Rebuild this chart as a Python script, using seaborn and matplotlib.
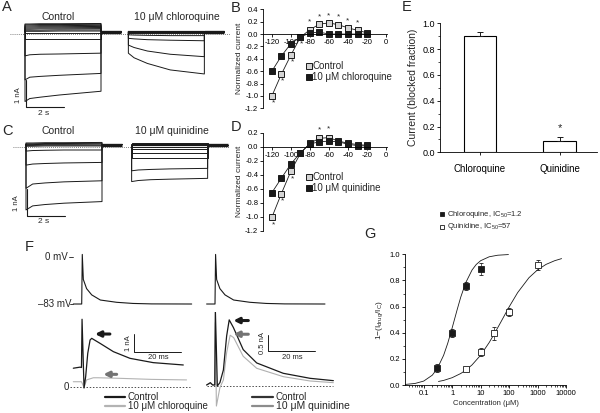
import matplotlib
matplotlib.use("Agg")
import matplotlib.pyplot as plt
from matplotlib.lines import Line2D
from matplotlib.ticker import AutoMinorLocator, LogLocator, NullFormatter
import pandas as pd
import seaborn as sns

# ---------------------------------------------------------------------------
# Data
# ---------------------------------------------------------------------------

# A: step currents (nA) at times (s) from pulse onset; control / 10 uM chloroquine
A_CTRL_T = [0.0, 0.25, 0.8, 1.8, 4.0]
A_CTRL = [
    [-2.50, -2.39, -2.34, -2.26, -2.12],
    [-1.70, -1.60, -1.57, -1.53, -1.46],
    [-0.81, -0.77, -0.75, -0.74, -0.71],
    [-0.19, -0.19, -0.19, -0.19, -0.19],
    [0.05, 0.05, 0.05, 0.05, 0.05],
    [0.10, 0.10, 0.10, 0.11, 0.11],
    [0.14, 0.14, 0.14, 0.15, 0.15],
    [0.18, 0.18, 0.19, 0.19, 0.20],
    [0.22, 0.22, 0.23, 0.23, 0.24],
    [0.26, 0.26, 0.27, 0.27, 0.28],
    [0.30, 0.30, 0.31, 0.31, 0.32],
    [0.34, 0.34, 0.35, 0.35, 0.36],
    [0.37, 0.37, 0.38, 0.38, 0.39],
]
A_CQ_T = [0.0, 0.3, 1.0, 2.2, 4.0]
A_CQ = [
    [-0.71, -0.88, -1.09, -1.33, -1.48],
    [-0.41, -0.50, -0.63, -0.75, -0.84],
    [-0.16, -0.18, -0.21, -0.23, -0.25],
    [-0.03, -0.04, -0.05, -0.06, -0.06],
    [0.04, 0.04, 0.04, 0.04, 0.04],
    [0.09, 0.09, 0.09, 0.09, 0.09],
]
A_TAIL = 0.085
A_TAIL_END = 5.05

# C: control / 10 uM quinidine
C_T = [0.0, 0.35, 1.0, 2.0, 4.0]
C_CTRL = [
    [-2.32, -2.17, -2.12, -2.07, -2.01],
    [-1.52, -1.36, -1.32, -1.28, -1.24],
    [-0.66, -0.62, -0.60, -0.58, -0.56],
    [-0.14, -0.12, -0.11, -0.10, -0.10],
    [0.04, 0.04, 0.05, 0.05, 0.05],
    [0.07, 0.07, 0.08, 0.08, 0.08],
    [0.10, 0.10, 0.11, 0.11, 0.12],
    [0.13, 0.13, 0.14, 0.14, 0.15],
    [0.16, 0.16, 0.17, 0.17, 0.18],
]
C_QD = [
    [-1.27, -1.23, -1.20, -1.18, -1.15],
    [-0.87, -0.84, -0.82, -0.80, -0.78],
    [-0.41, -0.41, -0.41, -0.41, -0.41],
    [-0.22, -0.22, -0.22, -0.22, -0.22],
    [-0.05, -0.05, -0.05, -0.05, -0.05],
    [0.02, 0.02, 0.02, 0.02, 0.02],
    [0.08, 0.08, 0.08, 0.08, 0.08],
    [0.13, 0.13, 0.13, 0.13, 0.13],
    [0.17, 0.17, 0.17, 0.17, 0.17],
]
C_TAIL = 0.1
C_TAIL_END = 5.05

# B / D: I-V relations (normalized current)
VM = [-120, -110, -100, -90, -80, -70, -60, -50, -40, -30, -20]
B_CTRL = [-1.0, -0.65, -0.34, -0.05, 0.07, 0.16, 0.18, 0.15, 0.10, 0.06, 0.02]
B_CTRL_ERR = [0.03, 0.04, 0.04, 0.02, 0.03, 0.03, 0.03, 0.02, 0.02, 0.02, 0.01]
B_CQ = [-0.60, -0.355, -0.155, -0.05, 0.02, 0.03, 0.0, 0.0, 0.0, 0.0, 0.0]
B_CQ_ERR = [0.04, 0.02, 0.03, 0.02, 0.01, 0.01, 0.01, 0.01, 0.01, 0.01, 0.01]
B_STAR_UP = [-80, -70, -60, -50, -40, -30]
B_STAR_DOWN = [-120, -110, -100, -90]

D_CTRL = [-1.01, -0.67, -0.35, -0.095, 0.05, 0.12, 0.13, 0.08, 0.05, 0.03, 0.02]
D_CTRL_ERR = [0.03, 0.03, 0.03, 0.02, 0.02, 0.03, 0.03, 0.02, 0.02, 0.01, 0.01]
D_QD = [-0.657, -0.45, -0.247, -0.086, 0.04, 0.07, 0.08, 0.07, 0.035, 0.015, 0.01]
D_QD_ERR = [0.03, 0.02, 0.03, 0.02, 0.02, 0.02, 0.02, 0.02, 0.01, 0.01, 0.01]
D_STAR_UP = [-70, -60]
D_STAR_DOWN = [-120, -110, -100]

# E: blocked fraction
E_DRUGS = ["Chloroquine", "Quinidine"]
E_BLOCK = [0.90, 0.09]
E_ERR = [0.03, 0.025]

# F: AP-clamp voltage (mV) and currents (nA) vs time (ms)
F_V_T = [-3.6, 0.0, 0.25, 0.7, 2.1, 4.3, 8.0, 15.0, 22.0, 30.0, 47.2]
F_V = [-83, -83, 4, -40, -56, -67, -76, -80, -82, -82.8, -83]

FL_T = [-3.6, -0.7, -0.1, 0.15, 1.0, 1.7, 2.6, 3.6, 4.3, 7.9, 13.6, 20.7, 30.7, 43.6]
FL_CTRL = [1.06, 1.12, 1.10, 3.78, -0.04, 0.59, 1.89, 2.63, 2.72, 2.44, 1.98, 1.61, 1.37, 1.24]
FL_CQ_T = [-3.6, -0.1, 1.0, 2.1, 5.0, 7.0, 16.0, 30.0, 45.0]
FL_CQ = [0.31, 0.31, 0.0, 0.41, 0.53, 0.53, 0.50, 0.44, 0.41]

FR_T = [-3.6, -2.0, -1.0, -0.1, 0.15, 1.0, 2.1, 3.6, 5.0, 6.1, 7.9, 12.1, 17.9, 29.3, 40.8, 50.8]
FR_CTRL = [0.03, 0.10, 0.03, 0.03, 2.28, 0.0, 0.10, 0.48, 1.50, 1.98, 1.75, 1.09, 0.69, 0.38, 0.23, 0.16]
FR_QD_T = [-3.6, -2.0, -1.0, -0.1, 0.15, 0.6, 2.1, 3.6, 5.0, 6.5, 8.0, 12.1, 17.9, 29.3, 40.8, 50.8]
FR_QD = [0.03, 0.08, 0.03, 0.03, 1.90, -0.60, -0.05, 0.18, 1.00, 1.52, 1.45, 0.89, 0.53, 0.28, 0.15, 0.10]

# G: concentration-response (uM) with Hill fits
G_CQ_CONC = [0.3, 1, 3, 10]
G_CQ = [0.13, 0.395, 0.76, 0.89]
G_CQ_ERR = [0.03, 0.03, 0.03, 0.045]
G_QD_CONC = [3, 10, 30, 100, 1000]
G_QD = [0.12, 0.25, 0.395, 0.56, 0.92]
G_QD_ERR = [0.01, 0.03, 0.05, 0.03, 0.04]
G_CQ_FIT_X = [0.022, 0.05, 0.1, 0.2, 0.3, 0.5, 0.7, 1, 1.5, 2, 3, 5, 7, 10, 20, 40, 95]
G_CQ_FIT = [0.004, 0.012, 0.030, 0.075, 0.126, 0.227, 0.320, 0.437, 0.577, 0.672,
            0.783, 0.880, 0.922, 0.951, 0.981, 0.993, 0.998]
G_QD_FIT_X = [0.33, 0.5, 1, 2, 3, 5, 10, 20, 30, 50, 100, 200, 500, 1000, 2000, 4000, 7000]
G_QD_FIT = [0.027, 0.035, 0.056, 0.088, 0.113, 0.154, 0.228, 0.325, 0.390, 0.477,
            0.597, 0.707, 0.821, 0.881, 0.923, 0.951, 0.967]
G_XTICKS = [0.1, 1, 10, 100, 1000, 10000]
G_XTICKLABELS = ["0.1", "1", "10", "100", "1000", "10000"]

# ---------------------------------------------------------------------------
# Style / layout helpers
# ---------------------------------------------------------------------------

sns.set_theme(style="ticks")
plt.rcParams["font.family"] = ["Liberation Sans", "DejaVu Sans"]
plt.rcParams.update({
    "axes.unicode_minus": False,
    "mathtext.default": "regular",
    "axes.linewidth": 0.6,
    "axes.edgecolor": "black",
    "xtick.color": "black", "ytick.color": "black",
    "xtick.major.width": 0.6, "ytick.major.width": 0.6,
    "xtick.minor.width": 0.5, "ytick.minor.width": 0.5,
    "xtick.major.size": 2.5, "ytick.major.size": 2.5,
    "xtick.minor.size": 1.5, "ytick.minor.size": 1.5,
    "xtick.major.pad": 1.2, "ytick.major.pad": 1.2,
    "xtick.labelsize": 5.5, "ytick.labelsize": 5.5,
})

W, H = 600, 413
fig = plt.figure(figsize=(6, 4.13), dpi=100)


def box(x0, y0, x1, y1):
    return [x0 / W, 1 - y1 / H, (x1 - x0) / W, (y1 - y0) / H]


def ptext(x, y, s, size=7, **kw):
    kw.setdefault("ha", "left")
    kw.setdefault("va", "center")
    fig.text(x / W, 1 - y / H, s, fontsize=size, **kw)


def trace_axes(b, ox, sx, oy, sy):
    # blank axes; data origin at pixel (ox, oy), sx / sy pixels per unit
    ax = fig.add_axes(box(*b))
    ax.set_xlim((b[0] - ox) / sx, (b[2] - ox) / sx)
    ax.set_ylim((oy - b[3]) / sy, (oy - b[1]) / sy)
    ax.axis("off")
    return ax


def sweep(ax, t0, times, levels, tail, tail_end, color="k", lw=0.7):
    x = [t0] + [t0 + t for t in times] + [t0 + times[-1], t0 + tail_end]
    y = [tail] + list(levels) + [tail, tail]
    ax.plot(x, y, color=color, lw=lw)


def legend_marker(x, y, text, face, size=7):
    fig.add_artist(Line2D([x / W], [1 - y / H], transform=fig.transFigure, marker="s",
                          ms=4.8, mfc=face, mec="k", mew=0.7, ls="none"))
    ptext(x + 4, y, text, size)


def legend_line(x0, x1, y, color, text, size=7):
    fig.add_artist(Line2D([x0 / W, x1 / W], [1 - y / H, 1 - y / H],
                          transform=fig.transFigure, color=color, lw=1.6))
    ptext(x1 + 3, y, text, size)


def arrow(ax, x_from, x_to, y, color):
    ax.annotate("", xy=(x_to, y), xytext=(x_from, y),
                arrowprops=dict(arrowstyle="-|>", color=color, lw=2.2,
                                mutation_scale=8, shrinkA=0, shrinkB=0))


# ---------------------------------------------------------------------------
# A and C: voltage-step current families
# ---------------------------------------------------------------------------

def step_panel(b, ox, oy, ctrl_t, ctrl, drug_t, drug, drug_x0, tail, tail_end, scale_y):
    ax = trace_axes(b, ox, 19, oy, 27)
    ax.axhline(0, color="0.35", lw=0.6, ls=(0, (1, 1.5)))
    for lv in ctrl:
        sweep(ax, 0, ctrl_t, lv, tail, tail_end)
    for lv in drug:
        sweep(ax, drug_x0, drug_t, lv, tail, tail_end, color="0.1")
    ax.plot([ctrl_t[-1], tail_end], [tail, tail], color="k", lw=2.4, solid_capstyle="butt")
    ax.plot([drug_x0, drug_x0 + drug_t[-1]], [tail, tail], color="k", lw=1.6, solid_capstyle="butt")
    ax.plot([drug_x0 + drug_t[-1], drug_x0 + tail_end], [tail, tail], color="k", lw=2.4,
            solid_capstyle="butt")
    # scale bar: 1 nA, 2 s
    ax.plot([0.05, 0.05, 2.05], [scale_y + 1, scale_y, scale_y], color="k", lw=0.8)
    return ax


step_panel((10, 15, 230, 115), 25, 34, A_CTRL_T, A_CTRL, A_CQ_T, A_CQ, 5.44,
           A_TAIL, A_TAIL_END, -2.71)
step_panel((13, 128, 230, 228), 26, 147.3, C_T, C_CTRL, C_T, C_QD, 5.56,
           C_TAIL, C_TAIL_END, -2.55)

ptext(58, 17.5, "Control", 7.5, ha="center")
ptext(177, 17.5, "10 \u03bcM chloroquine", 7.5, ha="center")
ptext(18.5, 95, "1 nA", 5.5, ha="center", rotation=90)
ptext(44, 113.5, "2 s", 6, ha="center")
ptext(58, 131, "Control", 7.5, ha="center")
ptext(172, 131, "10 \u03bcM quinidine", 7.5, ha="center")
ptext(17, 203, "1 nA", 5.5, ha="center", rotation=90)
ptext(44, 222, "2 s", 6, ha="center")

# ---------------------------------------------------------------------------
# B and D: normalized I-V curves
# ---------------------------------------------------------------------------

def iv_panel(b, ylim, yticks, ctrl, ctrl_err, drug, drug_err, up, down):
    ax = fig.add_axes(box(*b))
    for vals, err, face in [(ctrl, ctrl_err, "#d4d4d4"), (drug, drug_err, "k")]:
        ax.errorbar(VM, vals, yerr=err, fmt="none", ecolor="k", elinewidth=0.5,
                    capsize=1.0, capthick=0.5)
        sns.lineplot(x=VM, y=vals, ax=ax, color="k", lw=0.6, marker="s", ms=4.5,
                     markerfacecolor=face, markeredgecolor="k", markeredgewidth=0.7)
    for v in up:
        ax.text(v, ctrl[VM.index(v)] + 0.12, "*", ha="center", va="center", fontsize=6)
    for v in down:
        ax.text(v + 1.5, ctrl[VM.index(v)] - 0.11, "*", ha="center", va="center", fontsize=6)
    ax.set_xlim(-129, 1)
    ax.set_ylim(*ylim)
    ax.set_xticks(range(-120, 1, 20))
    ax.set_yticks(yticks, labels=[f"{t:.1f}" for t in yticks])
    sns.despine(ax=ax)
    ax.spines["bottom"].set_position(("data", 0))
    ax.set_xlabel("")
    ax.set_ylabel("Normalized current", fontsize=6, labelpad=1.5)
    return ax


iv_panel((263.3, 9.3, 387, 108.3), (-1.2, 0.4), [0.4, 0.2, 0.0, -0.2, -0.4, -0.6, -0.8, -1.0, -1.2],
         B_CTRL, B_CTRL_ERR, B_CQ, B_CQ_ERR, B_STAR_UP, B_STAR_DOWN)
iv_panel((263.3, 132.7, 387, 230.7), (-1.2, 0.2), [0.2, 0.0, -0.2, -0.4, -0.6, -0.8, -1.0, -1.2],
         D_CTRL, D_CTRL_ERR, D_QD, D_QD_ERR, D_STAR_UP, D_STAR_DOWN)

legend_marker(308.5, 65.7, "Control", "#d4d4d4", 7)
legend_marker(308.5, 76.5, "10 \u03bcM chloroquine", "k", 7)
legend_marker(308.5, 176.5, "Control", "#d4d4d4", 7)
legend_marker(308.5, 188, "10 \u03bcM quinidine", "k", 7)

# ---------------------------------------------------------------------------
# E: blocked fraction bar chart
# ---------------------------------------------------------------------------

axE = fig.add_axes(box(440, 23.3, 597, 152.3))
sns.barplot(x=E_DRUGS, y=E_BLOCK, ax=axE, color="white", edgecolor="black",
            linewidth=0.8, width=0.41, errorbar=None)
axE.errorbar([0, 1], E_BLOCK, yerr=[[0, 0], E_ERR], fmt="none", ecolor="k",
             elinewidth=0.7, capsize=2, capthick=0.7)
axE.text(1, E_BLOCK[1] + E_ERR[1] + 0.07, "*", ha="center", va="center", fontsize=8)
axE.set_xlim(-0.5, 1.47)
axE.set_ylim(0, 1.0)
axE.set_yticks([0.0, 0.2, 0.4, 0.6, 0.8, 1.0])
axE.yaxis.set_minor_locator(AutoMinorLocator(2))
axE.tick_params(axis="y", labelsize=6.5)
axE.tick_params(axis="x", labelsize=7, pad=6)
axE.set_ylabel("Current (blocked fraction)", fontsize=7.5, labelpad=3)
sns.despine(ax=axE)

# ---------------------------------------------------------------------------
# F: AP-clamp currents
# ---------------------------------------------------------------------------

for ox in (81.7, 215):
    axV = trace_axes((30 if ox < 100 else 200, 245, 200 if ox < 100 else 340, 310),
                     ox, 2.33, 256.7, 0.57)
    axV.plot(F_V_T, F_V, color="k", lw=0.8)
    if ox < 100:
        axV.plot([-5.5, -3.6], [0, 0], color="k", lw=0.6)
        axV.plot([-5.0, -3.6], [-83, -83], color="k", lw=0.6)

axIL = trace_axes((30, 312, 200, 395), 81.7, 2.33, 387.3, 18)
axIL.plot([-5, 46.5], [0, 0], color="0.3", lw=0.7, ls=(0, (1.5, 1.8)))
axIL.plot(FL_CQ_T, FL_CQ, color="#b3b3b3", lw=0.8)
axIL.plot(FL_T, FL_CTRL, color="k", lw=0.9)
axIL.plot([22.6, 22.6, 42.6], [2.98, 1.98, 1.98], color="k", lw=0.7)
arrow(axIL, 12.1, 5.7, 2.96, "k")
arrow(axIL, 15.0, 9.3, 0.72, "0.45")

axIR = trace_axes((200, 312, 340, 412), 215, 2.33, 386, 33.4)
axIR.plot([-3.6, 50.6], [0, 0], color="0.3", lw=0.7, ls=(0, (1.5, 1.8)))
axIR.plot(FR_QD_T, FR_QD, color="#b0b0b0", lw=0.8)
axIR.plot(FR_T, FR_CTRL, color="k", lw=0.9)
axIR.plot([22.9, 22.9, 42.9], [1.54, 1.04, 1.04], color="k", lw=0.7)
arrow(axIR, 14.3, 7.9, 1.96, "k")
arrow(axIR, 14.3, 7.9, 1.55, "0.45")

ptext(68, 256.7, "0 mV", 7, ha="right")
ptext(71, 304.3, "\u201383 mV", 7, ha="right")
ptext(69, 387.3, "0", 7, ha="right")
ptext(128.5, 343, "1 nA", 5.5, ha="center", rotation=90)
ptext(158.3, 357.5, "20 ms", 5.5, ha="center")
ptext(262, 343, "0.5 nA", 5.5, ha="center", rotation=90)
ptext(292, 357.5, "20 ms", 5.5, ha="center")
legend_line(105, 125, 396.7, "k", "Control", 7)
legend_line(105, 125, 406, "#b3b3b3", "10 \u03bcM chloroquine", 7)
legend_line(252, 273, 396.7, "#333333", "Control", 7)
legend_line(252, 273, 406, "#8c8c8c", "10 \u03bcM quinidine", 7.5)

# ---------------------------------------------------------------------------
# G: concentration-response
# ---------------------------------------------------------------------------

axG = fig.add_axes(box(405, 254.3, 566, 385))
axG.set_xscale("log")
sns.lineplot(x=G_CQ_FIT_X, y=G_CQ_FIT, ax=axG, color="k", lw=0.6)
sns.lineplot(x=G_QD_FIT_X, y=G_QD_FIT, ax=axG, color="k", lw=0.6)
axG.errorbar(G_CQ_CONC, G_CQ, yerr=G_CQ_ERR, fmt="s", ms=3.8, mfc="k", mec="k", mew=0.6,
             ecolor="k", elinewidth=0.5, capsize=1.2, capthick=0.5)
axG.errorbar(G_QD_CONC, G_QD, yerr=G_QD_ERR, fmt="s", ms=3.8, mfc="white", mec="k", mew=0.6,
             ecolor="k", elinewidth=0.5, capsize=1.2, capthick=0.5)
axG.set_xlim(0.022, 10000)
axG.set_ylim(0, 1.0)
axG.set_xticks(G_XTICKS, labels=G_XTICKLABELS)
axG.xaxis.set_minor_locator(LogLocator(base=10, subs=range(2, 10), numticks=20))
axG.xaxis.set_minor_formatter(NullFormatter())
axG.set_yticks([0.0, 0.2, 0.4, 0.6, 0.8, 1.0])
axG.yaxis.set_minor_locator(AutoMinorLocator(2))
axG.set_xlabel("Concentration (\u03bcM)", fontsize=5.5, labelpad=2)
axG.set_ylabel("1\u2212(I$_{drug}$/I$_C$)", fontsize=6, labelpad=3)
sns.despine(ax=axG)

fig.add_artist(Line2D([441.5 / W], [1 - 214 / H], transform=fig.transFigure, marker="s",
                      ms=3.5, mfc="k", mec="k", mew=0.6, ls="none"))
ptext(447, 214, "Chloroquine, IC$_{50}$=1.2", 5.5)
fig.add_artist(Line2D([441.5 / W], [1 - 227 / H], transform=fig.transFigure, marker="s",
                      ms=3.5, mfc="white", mec="k", mew=0.6, ls="none"))
ptext(447, 227, "Quinidine, IC$_{50}$=57", 5.5)

# panel letters
for lbl, x, y in [("A", 2, 7), ("B", 231, 8), ("C", 2, 131), ("D", 231, 127),
                  ("E", 402, 7), ("F", 25, 247), ("G", 364, 233.5)]:
    ptext(x, y, lbl, 10.5)

fig.savefig("out.png", dpi=100)
